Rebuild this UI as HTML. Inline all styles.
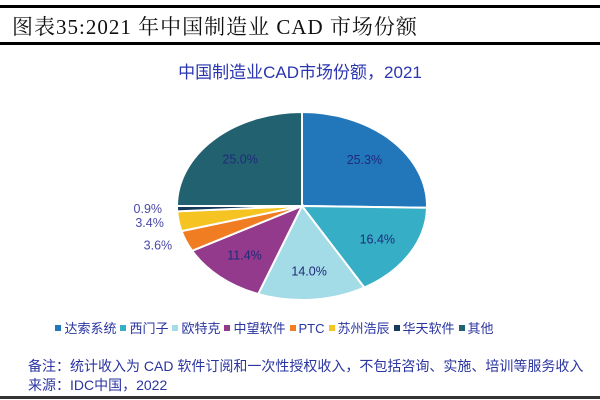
<!DOCTYPE html>
<html><head><meta charset="utf-8"><style>
body{margin:0;width:600px;height:400px;background:#fff;overflow:hidden;font-family:"Liberation Sans","Noto Sans CJK SC",sans-serif;position:relative}
.hdr{position:absolute;left:0;top:5px;width:600px;height:34px;border-top:3px solid #000;border-bottom:3px solid #000}
.hdr span{position:absolute;left:12px;top:3px;font-family:"Liberation Serif","Noto Serif CJK SC",serif;font-size:21px;letter-spacing:1px;color:#111}
.ct{position:absolute;top:58px;width:600px;text-align:center;font-size:17px;color:#2a35b0}
.legend{position:absolute;top:318px;left:0;width:545px;text-align:center;font-size:13px;color:#2a35a0;white-space:nowrap}
.legend i{display:inline-block;width:6px;height:6px;margin:0 3px 2px 4px}
.note{position:absolute;left:28px;font-size:14px;color:#2a35a0;white-space:nowrap}
.bot{position:absolute;left:0;top:396px;width:600px;height:3px;background:#333}
</style></head><body>
<div class="hdr"><span>图表35:2021 年中国制造业 CAD 市场份额</span></div>
<div class="ct">中国制造业CAD市场份额，2021</div>
<svg id="pie" width="600" height="400" style="position:absolute;left:0;top:0"></svg>
<div class="legend" id="legend"></div>
<div class="note" style="top:356px">备注：统计收入为 CAD 软件订阅和一次性授权收入，不包括咨询、实施、培训等服务收入</div>
<div class="note" style="top:375px">来源：IDC中国，2022</div>
<div class="bot"></div>
<script>
const categories=["达索系统","西门子","欧特克","中望软件","PTC","苏州浩辰","华天软件","其他"];
const values=[25.3,16.4,14.0,11.4,3.6,3.4,0.9,25.0];
const labels=["25.3%","16.4%","14.0%","11.4%","3.6%","3.4%","0.9%","25.0%"];
const colors=["#2277bb","#35aec6","#a3dbe6","#943a8c","#f07d22","#f5c322","#153a5a","#226270"];
const cx=302,cy=206,rx=125,ry=94;
const svg=document.getElementById('pie');
const NS="http://www.w3.org/2000/svg";
const total=values.reduce((a,b)=>a+b,0);
function pt(a,r){return [cx+rx*r*Math.sin(a),cy-ry*r*Math.cos(a)];}
let acc=0;
values.forEach((v,i)=>{
  const a0=acc/total*2*Math.PI;acc+=v;const a1=acc/total*2*Math.PI;
  const p0=pt(a0,1),p1=pt(a1,1);
  const path=document.createElementNS(NS,'path');
  path.setAttribute('d',`M${cx},${cy}L${p0[0]},${p0[1]}A${rx},${ry} 0 ${a1-a0>Math.PI?1:0} 1 ${p1[0]},${p1[1]}Z`);
  path.setAttribute('fill',colors[i]);path.setAttribute('stroke','#fff');path.setAttribute('stroke-width','2');
  
  
  svg.appendChild(path);
  const am=(a0+a1)/2;const small=v<5;
  let lp=small?pt(am,1.12):pt(am,0.7);
  const t=document.createElementNS(NS,'text');
  t.setAttribute('x',lp[0]);t.setAttribute('y',lp[1]+4);
  t.setAttribute('text-anchor',small?'end':'middle');
  t.setAttribute('font-size','12.5');t.setAttribute('fill',small?'#4a4aa8':'#1f2a7a');
  t.setAttribute('font-family','Liberation Sans, sans-serif');
  t.textContent=labels[i];
  
  
  svg.appendChild(t);
});
const lg=document.getElementById('legend');
categories.forEach((c,i)=>{
  const s=document.createElement('span');
  s.innerHTML=`<i style="background:${colors[i]}"></i>${c}`;
  
  
  lg.appendChild(s);
});
</script>
</body></html>
